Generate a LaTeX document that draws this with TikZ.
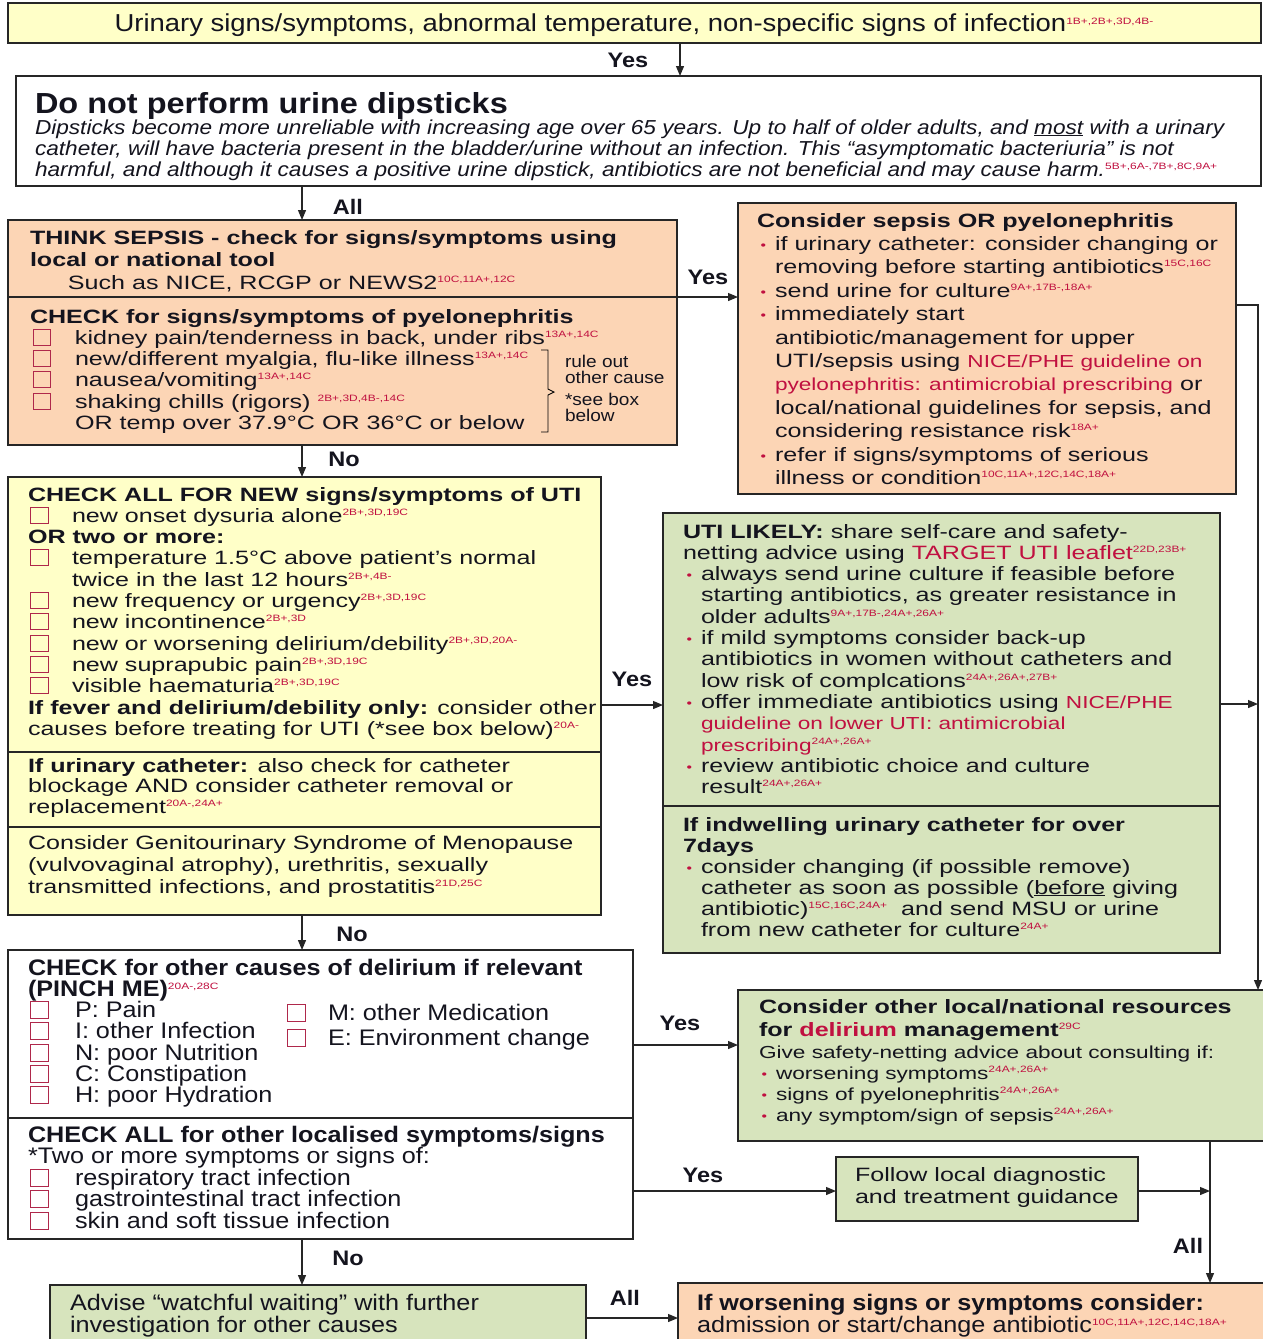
\documentclass[tikz,border=0pt]{standalone}
\usepackage{fontspec}
\setmainfont{Liberation Sans}
\newfontfamily\wf[FakeStretch=1.3]{Liberation Sans}
\newfontfamily\nf[FakeStretch=1.12]{Liberation Sans}
\usetikzlibrary{arrows.meta}
\definecolor{yel}{RGB}{255,255,200}
\definecolor{ora}{RGB}{252,213,181}
\definecolor{grn}{RGB}{215,228,189}
\definecolor{rd}{RGB}{192,16,64}
\definecolor{cbc}{RGB}{175,40,75}
\definecolor{ink}{RGB}{20,20,30}
\newcommand\fw{\wf\fontsize{19.3}{22}\selectfont}
\newcommand\fws{\wf\fontsize{17.4}{20}\selectfont}
\newcommand\fn{\nf\fontsize{22.5}{24}\selectfont}
\newcommand\sr[1]{\raisebox{7pt}{\wf\mdseries\upshape\fontsize{9.2}{9.2}\selectfont\color{rd}#1}}
\newcommand\rt[1]{\textcolor{rd}{#1}}
\newcommand\rts[1]{{\fws\color{rd}#1}}
\newcommand\Lx[1]{\hbox{#1}}
\newcommand\blk[3]{\vtop{#1\lineskiplimit=-100pt\lineskip=0pt\baselineskip=#2pt #3}}
\newcommand\bul{\llap{\raisebox{1pt}{\fontsize{12}{12}\selectfont\color{rd}•}\hskip9pt}}
\newcommand\ind{\hskip18pt}
\begin{document}
\begin{tikzpicture}[x=1pt,y=-1pt,
  box/.style={draw=black!85, line width=1.4pt, inner sep=0pt, outer sep=0pt, anchor=north west},
  tx/.style={anchor=base west, inner sep=0pt, outer sep=0pt, text=ink},
  lab/.style={font=\nf\bfseries\fontsize{21}{21}\selectfont, inner sep=0pt, anchor=center, text=ink},
  arr/.style={line width=1.2pt, draw=black!85, -{Triangle[length=10pt,width=8pt]}},
  div/.style={line width=1.2pt, draw=black!85},
  cbx/.style={draw=cbc, line width=0.9pt}]
\fill[white] (0,0) rectangle (1262,1339);
\useasboundingbox (0,0) rectangle (1262,1339);

% ---------- boxes ----------
\node[box, fill=yel, minimum width=1253pt, minimum height=40pt] (banner) at (8,3) {};
\node[box, fill=white, minimum width=1245pt, minimum height=110pt] (dip) at (16,76) {};
\node[box, fill=ora, minimum width=669pt, minimum height=225pt] (think) at (8,220) {};
\node[box, fill=ora, minimum width=498pt, minimum height=291pt] (sepsis) at (738,203) {};
\node[box, fill=yel, minimum width=593pt, minimum height=438pt] (uti) at (8,477) {};
\node[box, fill=grn, minimum width=557pt, minimum height=440pt] (likely) at (663,513) {};
\node[box, fill=grn, line width=2.4pt, minimum width=530pt, minimum height=151pt] (res) at (738,990) {};
\node[box, fill=white, line width=2.4pt, minimum width=625pt, minimum height=289pt] (delir) at (8,950) {};
\node[box, fill=grn, minimum width=302pt, minimum height=64pt] (follow) at (836,1157) {};
\node[box, fill=grn, minimum width=536pt, minimum height=70pt] (advise) at (50,1285) {};
\node[box, fill=ora, minimum width=595pt, minimum height=70pt] (worsen) at (678,1283) {};

% dividers
\coordinate (d1) at (0,297);
\coordinate (d2) at (0,752);
\coordinate (d3) at (0,827);
\coordinate (d4) at (0,806);
\coordinate (d5) at (0,1118);
\draw[div] (think.west |- d1) -- (think.east |- d1);
\draw[div] (uti.west |- d2) -- (uti.east |- d2);
\draw[div] (uti.west |- d3) -- (uti.east |- d3);
\draw[div] (likely.west |- d4) -- (likely.east |- d4);
\draw[div, line width=2pt] (delir.west |- d5) -- (delir.east |- d5);

% ---------- connectors ----------
\coordinate (xa) at (680,0);
\coordinate (xb) at (302,0);
\coordinate (xg) at (1258,0);
\coordinate (xl) at (1210,0);
\coordinate (yc) at (0,297);
\coordinate (ye) at (0,705);
\coordinate (yg) at (0,305);
\coordinate (yh) at (0,704);
\coordinate (yi) at (0,1045);
\coordinate (yj) at (0,1191);
\coordinate (yn) at (0,1318);
\draw[arr] (xa |- banner.south) -- (xa |- dip.north);
\draw[arr] (xb |- dip.south) -- (xb |- think.north);
\draw[arr] (think.east |- yc) -- (sepsis.west |- yc);
\draw[arr] (xb |- think.south) -- (xb |- uti.north);
\draw[arr] (uti.east |- ye) -- (likely.west |- ye);
\draw[arr] (xb |- uti.south) -- (xb |- delir.north);
\draw[arr] (sepsis.east |- yg) -- (xg |- yg) -- (xg |- res.north);
\draw[arr] (likely.east |- yh) -- (xg |- yh);
\draw[arr] (delir.east |- yi) -- (res.west |- yi);
\draw[arr] (delir.east |- yj) -- (follow.west |- yj);
\draw[arr] (follow.east |- yj) -- (xl |- yj);
\draw[arr] (xl |- res.south) -- (xl |- worsen.north);
\draw[arr] (xb |- delir.south) -- (xb |- advise.north);
\draw[arr] (advise.east |- yn) -- (worsen.west |- yn);

% labels
\node[lab] (l1) at (628,60) {Yes};
\node[lab] (l2) at (348,207) {All};
\node[lab] (l3) at (708,277) {Yes};
\node[lab] (l4) at (344,459) {No};
\node[lab] (l5) at (632,679) {Yes};
\node[lab] (l6) at (352,934) {No};
\node[lab] (l7) at (680,1023) {Yes};
\node[lab] (l8) at (703,1175) {Yes};
\node[lab] (l9) at (1188,1246) {All};
\node[lab] (l10) at (348,1258) {No};
\node[lab] (l11) at (625,1298) {All};

% ---------- texts ----------
\node[anchor=base, inner sep=0pt, text=ink] (tban) at (634,31) {\nf\fontsize{24.5}{24.5}\selectfont Urinary signs/symptoms, abnormal temperature, non-specific signs of infection\sr{1B+,2B+,3D,4B-}};

\node[tx] (tdiph) at (35,113) {\nf\bfseries\fontsize{29}{29}\selectfont Do not perform urine dipsticks};
\node[tx] (tdip) at (35,134) {\blk{\nf\itshape\fontsize{20.2}{21}\selectfont}{21}{%
\Lx{Dipsticks become more unreliable with increasing age over 65 years. Up to half of older adults, and \underline{most} with a urinary}%
\Lx{catheter, will have bacteria present in the bladder/urine without an infection. This “asymptomatic bacteriuria” is not}%
\Lx{harmful, and although it causes a positive urine dipstick, antibiotics are not beneficial and may cause harm.\sr{5B+,6A-,7B+,8C,9A+}}}};

\node[tx] (tthink) at (30,244) {\blk{\fw}{22.5}{%
\Lx{\bfseries THINK SEPSIS - check for signs/symptoms using}%
\Lx{\bfseries local or national tool}%
\Lx{\hskip38pt Such as NICE, RCGP or NEWS2\sr{10C,11A+,12C}}}};

\node[tx] (tpyel) at (30,323) {\blk{\fw}{21.3}{%
\Lx{\bfseries CHECK for signs/symptoms of pyelonephritis}%
\Lx{\hskip45pt kidney pain/tenderness in back, under ribs\sr{13A+,14C}}%
\Lx{\hskip45pt new/different myalgia, flu-like illness\sr{13A+,14C}}%
\Lx{\hskip45pt nausea/vomiting\sr{13A+,14C}}%
\Lx{\hskip45pt shaking chills (rigors) \sr{2B+,3D,4B-,14C}}%
\Lx{\hskip45pt OR temp over 37.9°C OR 36°C or below}}};
\foreach \yy in {344.3,365.6,386.9,408.2} \draw[cbx] (33,\yy-15) rectangle (50,\yy+1);
\draw[line width=0.9pt] (541,350) -- (548,350) -- (548,389) -- (554,392) -- (548,395) -- (548,432) -- (541,432);
\node[tx] (tbr) at (565,367) {\blk{\nf\fontsize{17}{17}\selectfont}{16}{%
\Lx{rule out}\Lx{other cause}\vskip6pt\Lx{*see box}\Lx{below}}};

\node[tx] (tsep) at (757,227) {\blk{\fw}{23.4}{%
\Lx{\bfseries Consider sepsis OR pyelonephritis}%
\Lx{\ind\bul if urinary catheter: consider changing or}%
\Lx{\ind removing before starting antibiotics\sr{15C,16C}}%
\Lx{\ind\bul send urine for culture\sr{9A+,17B-,18A+}}%
\Lx{\ind\bul immediately start}%
\Lx{\ind antibiotic/management for upper}%
\Lx{\ind UTI/sepsis using \rts{NICE/PHE guideline on}}%
\Lx{\ind\rts{pyelonephritis: antimicrobial prescribing} or}%
\Lx{\ind local/national guidelines for sepsis, and}%
\Lx{\ind considering resistance risk\sr{18A+}}%
\Lx{\ind\bul refer if signs/symptoms of serious}%
\Lx{\ind illness or condition\sr{10C,11A+,12C,14C,18A+}}}};

\node[tx] (tuti) at (28,501) {\blk{\fw}{21.3}{%
\Lx{\bfseries CHECK ALL FOR NEW signs/symptoms of UTI}%
\Lx{\hskip44pt new onset dysuria alone\sr{2B+,3D,19C}}%
\Lx{\bfseries OR two or more:}%
\Lx{\hskip44pt temperature 1.5°C above patient’s normal}%
\Lx{\hskip44pt twice in the last 12 hours\sr{2B+,4B-}}%
\Lx{\hskip44pt new frequency or urgency\sr{2B+,3D,19C}}%
\Lx{\hskip44pt new incontinence\sr{2B+,3D}}%
\Lx{\hskip44pt new or worsening delirium/debility\sr{2B+,3D,20A-}}%
\Lx{\hskip44pt new suprapubic pain\sr{2B+,3D,19C}}%
\Lx{\hskip44pt visible haematuria\sr{2B+,3D,19C}}%
\Lx{{\bfseries If fever and delirium/debility only:} consider other}%
\Lx{causes before treating for UTI (*see box below)\sr{20A-}}}};
\foreach \yy in {522.3,564.9,607.5,628.8,650.1,671.4,692.7} \draw[cbx] (30,\yy-15) rectangle (48,\yy+1);

\node[tx] (tcath) at (28,772) {\blk{\fw}{20.7}{%
\Lx{{\bfseries If urinary catheter:} also check for catheter}%
\Lx{blockage AND consider catheter removal or}%
\Lx{replacement\sr{20A-,24A+}}}};

\node[tx] (tgsm) at (28,849) {\blk{\fw}{22}{%
\Lx{Consider Genitourinary Syndrome of Menopause}%
\Lx{(vulvovaginal atrophy), urethritis, sexually}%
\Lx{transmitted infections, and prostatitis\sr{21D,25C}}}};

\node[tx] (tlik) at (683,538) {\blk{\fw}{21.3}{%
\Lx{{\bfseries UTI LIKELY:} share self-care and safety-}%
\Lx{netting advice using \rt{TARGET UTI leaflet}\sr{22D,23B+}}%
\Lx{\ind\bul always send urine culture if feasible before}%
\Lx{\ind starting antibiotics, as greater resistance in}%
\Lx{\ind older adults\sr{9A+,17B-,24A+,26A+}}%
\Lx{\ind\bul if mild symptoms consider back-up}%
\Lx{\ind antibiotics in women without catheters and}%
\Lx{\ind low risk of complcations\sr{24A+,26A+,27B+}}%
\Lx{\ind\bul offer immediate antibiotics using \rts{NICE/PHE}}%
\Lx{\ind\rts{guideline on lower UTI: antimicrobial}}%
\Lx{\ind\rts{prescribing}\sr{24A+,26A+}}%
\Lx{\ind\bul review antibiotic choice and culture}%
\Lx{\ind result\sr{24A+,26A+}}}};

\node[tx] (tind) at (683,831) {\blk{\fw}{21}{%
\Lx{\bfseries If indwelling urinary catheter for over}%
\Lx{\bfseries 7days}%
\Lx{\ind\bul consider changing (if possible remove)}%
\Lx{\ind catheter as soon as possible (\underline{before} giving}%
\Lx{\ind antibiotic)\sr{15C,16C,24A+} \ and send MSU or urine}%
\Lx{\ind from new catheter for culture\sr{24A+}}}};

\node[tx] (tres) at (759,1013) {\blk{\fw}{23}{%
\Lx{\bfseries Consider other local/national resources}%
\Lx{\bfseries for \rt{delirium} management\sr{29C}}}};
\node[tx] (tres2) at (759,1058) {\blk{\fws}{21}{%
\Lx{Give safety-netting advice about consulting if:}%
\Lx{\hskip17pt\bul worsening symptoms\sr{24A+,26A+}}%
\Lx{\hskip17pt\bul signs of pyelonephritis\sr{24A+,26A+}}%
\Lx{\hskip17pt\bul any symptom/sign of sepsis\sr{24A+,26A+}}}};

\node[tx] (tdel) at (28,975) {\blk{\fn}{21.3}{%
\Lx{\bfseries CHECK for other causes of delirium if relevant}%
\Lx{\bfseries (PINCH ME)\sr{20A-,28C}}%
\Lx{\hskip47pt P: Pain}%
\Lx{\hskip47pt I: other Infection}%
\Lx{\hskip47pt N: poor Nutrition}%
\Lx{\hskip47pt C: Constipation}%
\Lx{\hskip47pt H: poor Hydration}}};
\foreach \yy in {1017.6,1038.9,1060.2,1081.5,1102.8} \draw[cbx] (30,\yy-16) rectangle (48,\yy+1);
\node[tx] (tdel2) at (328,1020) {\blk{\fn}{25}{%
\Lx{M: other Medication}%
\Lx{E: Environment change}}};
\foreach \yy in {1020,1045} \draw[cbx] (287,\yy-16) rectangle (305,\yy+1);

\node[tx] (tloc) at (28,1142) {\blk{\fn}{21.5}{%
\Lx{\bfseries CHECK ALL for other localised symptoms/signs}%
\Lx{*Two or more symptoms or signs of:}%
\Lx{\hskip47pt respiratory tract infection}%
\Lx{\hskip47pt gastrointestinal tract infection}%
\Lx{\hskip47pt skin and soft tissue infection}}};
\foreach \yy in {1185,1206.5,1228} \draw[cbx] (30,\yy-16) rectangle (48,\yy+1);

\node[tx] (tfol) at (855,1181) {\blk{\fw}{22}{%
\Lx{Follow local diagnostic}%
\Lx{and treatment guidance}}};

\node[tx] (tadv) at (70,1310) {\blk{\fn}{22}{%
\Lx{Advise “watchful waiting” with further}%
\Lx{investigation for other causes}}};

\node[tx] (twor) at (697,1310) {\blk{\fn}{22}{%
\Lx{\bfseries If worsening signs or symptoms consider:}%
\Lx{admission or start/change antibiotic\sr{10C,11A+,12C,14C,18A+}}}};
\end{tikzpicture}
\end{document}
